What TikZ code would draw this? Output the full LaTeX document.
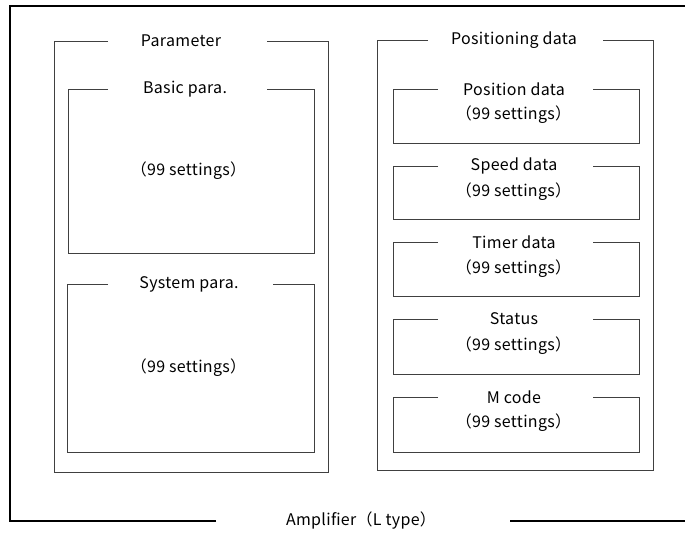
\documentclass[tikz,border=0pt]{standalone}
\usepackage{fontspec}
\setmainfont[LetterSpace=2]{Noto Sans CJK JP}
\usepackage{tikz}
\usetikzlibrary{positioning}

\begin{document}
\begin{tikzpicture}[x=0.75pt, y=-0.75pt, font=\fontsize{12}{14}\selectfont,
    outer/.style={line width=0.8pt, black},
    frame/.style={line width=0.7pt, black!75},
    title/.style={inner sep=1pt},
    count/.style={inner sep=1pt}]
  \useasboundingbox (0,0) rectangle (685,535);

  % amplifier (open on the right)
  \draw[outer] (216,521) -| (10,6) -- (685,6);
  \draw[outer] (510,521) -- (685,521);
  \node[title] (amp) at (361,521) {Amplifier（L type）};

  % parameter side
  \draw[frame] (108,41) -| (54,472) -| (328,41) -- (267,41);
  \node[title] (param) at (181,41) {Parameter};

  \draw[frame] (108,89) -| (68,253) -| (314,89) -- (267,89);
  \node[title] (basic) at (185,89) {Basic para.};
  \node[count] (basicn) at (188.5,171) {（99 settings）};

  \draw[frame] (108,284) -| (67,452) -| (314,284) -- (273,284);
  \node[title] (system) at (189,284) {System para.};
  \node[count] (systemn) at (188.5,368) {（99 settings）};

  % positioning data side
  \draw[frame] (428,40) -| (377,470) -| (653,40) -- (603,40);
  \node[title] (posdata) at (514,40) {Positioning data};

  \draw[frame] (438,89) -| (393,143) -| (639,89) -- (593,89);
  \node[title] (pos) at (514,89) {Position data};
  \node[count] (posn) at (513.5,115) {（99 settings）};

  \draw[frame] (438,166) -| (393,219) -| (639,166) -- (593,166);
  \node[title] (speed) at (514,166) {Speed data};
  \node[count] (speedn) at (513.5,192) {（99 settings）};

  \draw[frame] (438,242) -| (393,296) -| (639,242) -- (593,242);
  \node[title] (timer) at (514,242) {Timer data};
  \node[count] (timern) at (513.5,269) {（99 settings）};

  \draw[frame] (438,319) -| (393,374) -| (639,319) -- (593,319);
  \node[title] (status) at (514,319) {Status};
  \node[count] (statusn) at (513.5,346) {（99 settings）};

  \draw[frame] (438,397) -| (393,452) -| (639,397) -- (593,397);
  \node[title] (mcode) at (514,397) {M code};
  \node[count] (mcoden) at (513.5,423) {（99 settings）};
\end{tikzpicture}
\end{document}
